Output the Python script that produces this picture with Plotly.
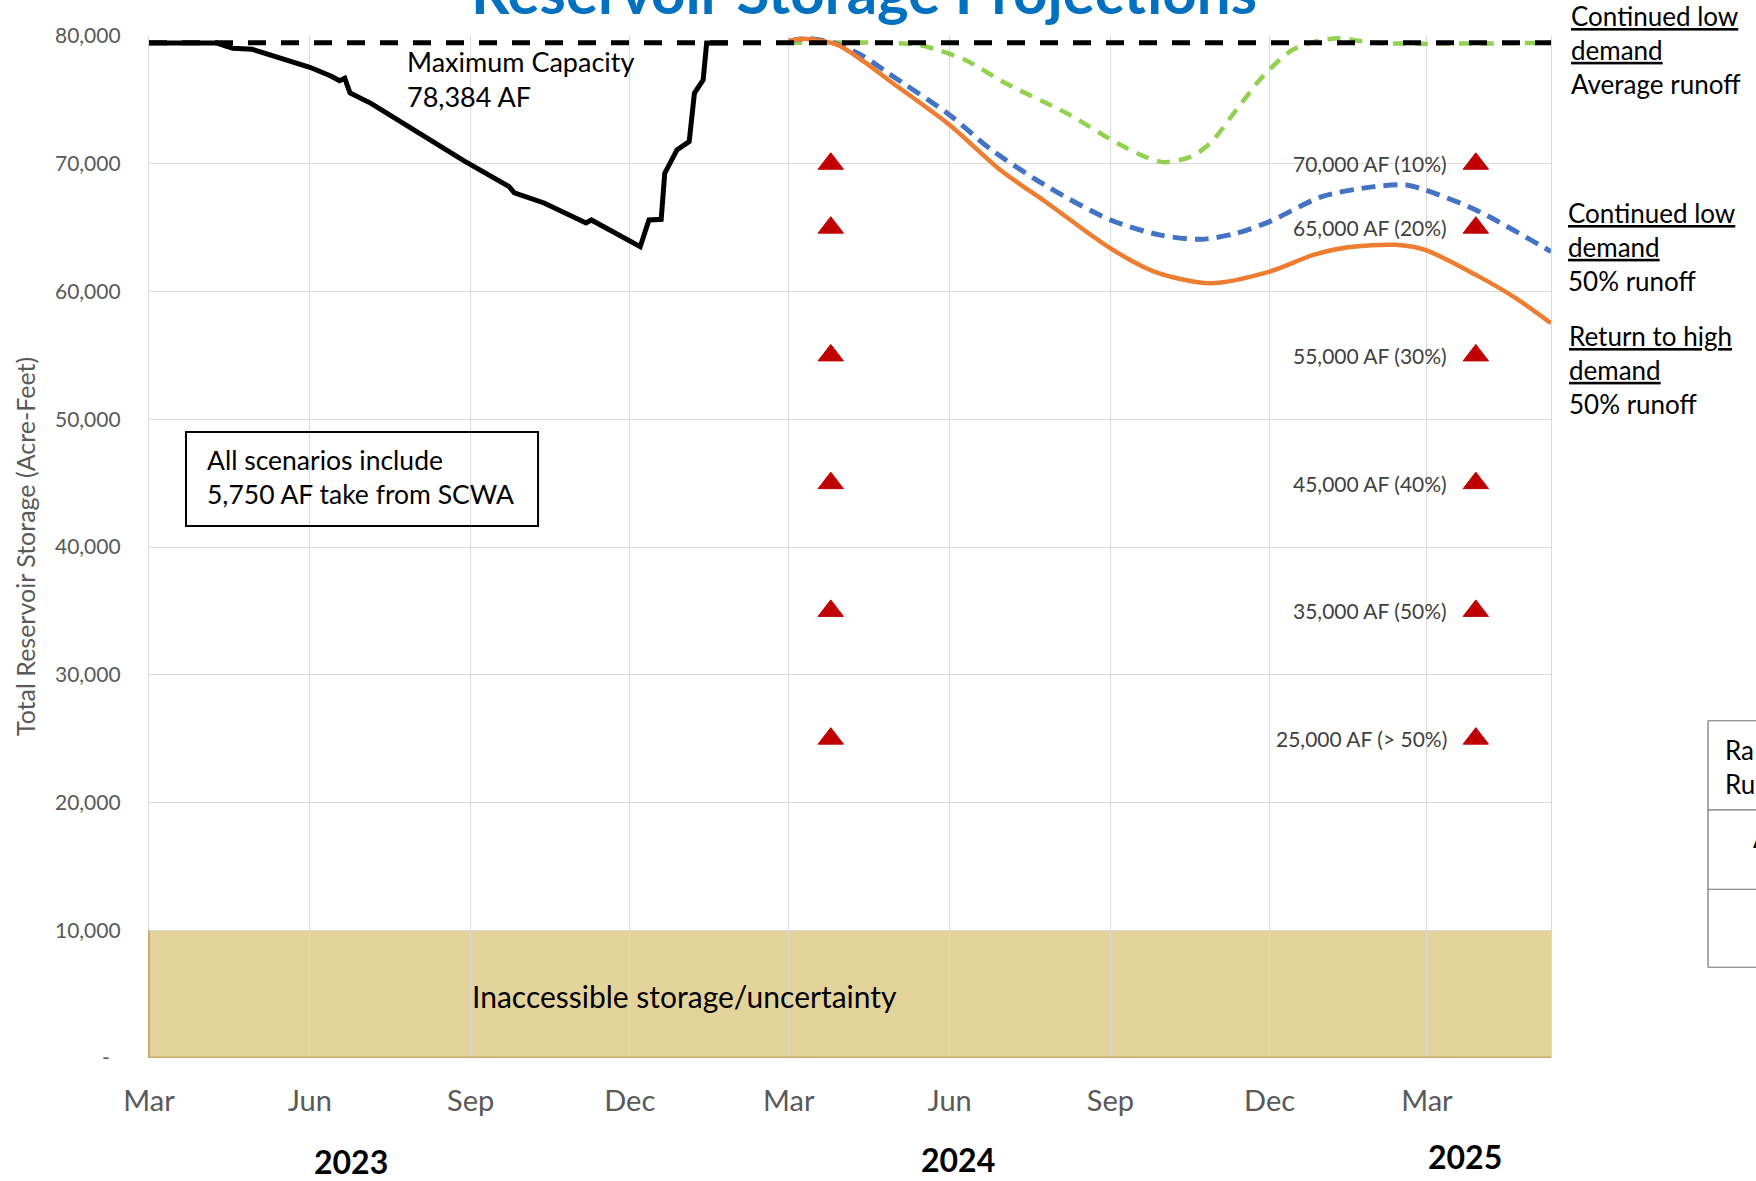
import plotly.graph_objects as go

# ---------------- data ----------------
hist_dates = ["2023-03-01", "2023-04-09", "2023-04-14", "2023-04-18", "2023-04-29", "2023-05-23",
              "2023-06-01", "2023-06-13", "2023-06-18", "2023-06-21", "2023-06-24", "2023-07-06",
              "2023-07-28", "2023-08-28", "2023-09-23", "2023-09-26", "2023-10-13", "2023-11-06",
              "2023-11-09", "2023-12-07", "2023-12-12", "2023-12-19", "2023-12-21", "2023-12-28",
              "2024-01-04", "2024-01-07", "2024-01-12", "2024-01-14", "2024-01-26"]
hist_af = [79450, 79450, 79200, 79040, 78960, 77860,
           77550, 76870, 76500, 76690, 75540, 74730,
           72900, 70240, 68210, 67720, 66930, 65370,
           65600, 63510, 65600, 65650, 69250, 71080,
           71730, 75520, 76560, 79450, 79450]

capacity_dates = ["2023-03-01", "2025-05-11"]
capacity_af = [79470, 79470]

green_dates = ["2024-03-01", "2024-04-27", "2024-05-12", "2024-05-21", "2024-06-10", "2024-07-03",
               "2024-08-07", "2024-09-05", "2024-09-23", "2024-10-02", "2024-10-17", "2024-10-28",
               "2024-11-12", "2024-11-27", "2024-12-14", "2024-12-29", "2025-01-10", "2025-01-30",
               "2025-05-11"]
green_af = [79470, 79470, 79340, 79080, 78120, 76300,
            73950, 71600, 70430, 70120, 70560, 71600,
            74210, 76820, 78900, 79620, 79820, 79470,
            79470]

blue_dates = ["2024-03-01", "2024-03-10", "2024-03-18", "2024-03-29", "2024-04-13", "2024-04-27",
              "2024-06-01", "2024-06-25", "2024-07-27", "2024-09-01", "2024-09-29", "2024-10-23",
              "2024-11-12", "2024-12-01", "2024-12-31", "2025-01-30", "2025-02-17", "2025-02-28",
              "2025-03-29", "2025-05-11"]
blue_af = [79600, 79800, 79700, 79350, 78380, 77080,
           73820, 71080, 68210, 65600, 64430, 64090,
           64560, 65470, 67430, 68210, 68340, 67950,
           66385, 63125]

orange_dates = ["2024-03-01", "2024-03-10", "2024-03-18", "2024-03-29", "2024-04-13", "2024-04-27",
                "2024-06-01", "2024-06-30", "2024-07-27", "2024-09-01", "2024-09-26", "2024-10-28",
                "2024-12-01", "2024-12-26", "2025-01-15", "2025-02-11", "2025-02-28", "2025-03-29",
                "2025-04-21", "2025-05-11"]
orange_af = [79600, 79780, 79650, 79300, 77990, 76560,
             73040, 69510, 66910, 63380, 61560, 60650,
             61560, 62860, 63460, 63650, 63250, 61300,
             59470, 57520]

trigger_values = [70000, 65000, 55000, 45000, 35000, 25000]
trigger_labels = ["70,000 AF (10%)", "65,000 AF (20%)", "55,000 AF (30%)",
                  "45,000 AF (40%)", "35,000 AF (50%)", "25,000 AF (> 50%)"]
trigger_date_2024 = "2024-03-25"
trigger_date_2025 = "2025-03-29"

inaccessible_top = 10000

y_tickvals = [0, 10000, 20000, 30000, 40000, 50000, 60000, 70000, 80000]
y_ticktext = ["-\u00a0\u00a0", "10,000", "20,000", "30,000", "40,000",
              "50,000", "60,000", "70,000", "80,000"]

year_labels = ["2023", "2024", "2025"]

# ---------------- figure ----------------
FONT = "Lato"
fig = go.Figure()

fig.add_trace(go.Scatter(x=hist_dates, y=hist_af, mode="lines",
                         line=dict(color="black", width=5), name="Historical"))
fig.add_trace(go.Scatter(x=green_dates, y=green_af, mode="lines",
                         line=dict(color="#92D050", width=4.5, dash="13px,9px", shape="spline", smoothing=0.8),
                         name="Continued low demand, average runoff"))
fig.add_trace(go.Scatter(x=blue_dates, y=blue_af, mode="lines",
                         line=dict(color="#4472C4", width=5, dash="14px,8px", shape="spline", smoothing=0.8),
                         name="Continued low demand, 50% runoff"))
fig.add_trace(go.Scatter(x=orange_dates, y=orange_af, mode="lines",
                         line=dict(color="#ED7D31", width=4.5, shape="spline", smoothing=0.8),
                         name="Return to high demand, 50% runoff"))
fig.add_trace(go.Scatter(x=capacity_dates, y=capacity_af, mode="lines",
                         line=dict(color="black", width=5, dash="18px,15px"), name="Maximum Capacity"))
fig.add_trace(go.Scatter(x=[trigger_date_2024] * len(trigger_values), y=trigger_values, mode="markers",
                         marker=dict(symbol="triangle-up", size=22, color="#C00000",
                                     line=dict(color="#C00000", width=1)), name="Triggers 2024"))
fig.add_trace(go.Scatter(x=[trigger_date_2025] * len(trigger_values), y=trigger_values, mode="markers",
                         marker=dict(symbol="triangle-up", size=22, color="#C00000",
                                     line=dict(color="#C00000", width=1)), name="Triggers 2025"))

shapes = [
    dict(type="rect", xref="paper", yref="y", x0=0, x1=1, y0=0, y1=inaccessible_top,
         fillcolor="rgba(212,182,90,0.6)", line=dict(width=0), layer="between"),
    dict(type="line", xref="paper", yref="y", x0=0, x1=1, y0=0, y1=0,
         line=dict(color="#C8AE6C", width=3)),
    dict(type="line", xref="paper", yref="y", x0=0, x1=0, y0=0, y1=inaccessible_top,
         line=dict(color="#C8AE6C", width=2)),
    # note box
    dict(type="rect", xref="paper", yref="paper", x0=0.0264, x1=0.2775, y0=0.5205, y1=0.6125,
         line=dict(color="black", width=2), fillcolor="rgba(0,0,0,0)"),
    # partial table at right
    dict(type="line", xref="paper", yref="paper", x0=1.112, x1=1.112, y0=0.0888, y1=0.33,
         line=dict(color="#707070", width=1.2)),
]
for yy in [0.33, 0.2427, 0.1651, 0.0888]:
    shapes.append(dict(type="line", xref="paper", yref="paper", x0=1.112, x1=1.25, y0=yy, y1=yy,
                       line=dict(color="#707070", width=1.2)))

annotations = [
    dict(text="<b>Reservoir Storage Projections</b>", xref="paper", yref="paper", x=0.51, y=1.044,
         xanchor="center", yanchor="middle", showarrow=False,
         font=dict(family=FONT, size=60, color="#0070C0")),
    dict(text="Maximum Capacity<br>78,384 AF", xref="paper", yref="paper", x=0.1826, y=0.958,
         xanchor="left", yanchor="middle", align="left", showarrow=False,
         font=dict(family=FONT, size=27, color="black")),
    dict(text="All scenarios include<br>5,750 AF take from SCWA", xref="paper", yref="paper",
         x=0.0399, y=0.5685, xanchor="left", yanchor="middle", align="left", showarrow=False,
         font=dict(family=FONT, size=26.5, color="black")),
    dict(text="Inaccessible storage/uncertainty", xref="paper", yref="paper", x=0.229, y=0.061,
         xanchor="left", yanchor="middle", showarrow=False,
         font=dict(family=FONT, size=30, color="black")),
    dict(text="<u>Continued low</u><br><u>demand</u><br>Average runoff", xref="paper", yref="paper",
         x=1.0125, y=0.9863, xanchor="left", yanchor="middle", align="left", showarrow=False,
         font=dict(family=FONT, size=26, color="black")),
    dict(text="<u>Continued low</u><br><u>demand</u><br>50% runoff", xref="paper", yref="paper",
         x=1.0105, y=0.7939, xanchor="left", yanchor="middle", align="left", showarrow=False,
         font=dict(family=FONT, size=26, color="black")),
    dict(text="<u>Return to high</u><br><u>demand</u><br>50% runoff", xref="paper", yref="paper",
         x=1.0115, y=0.6732, xanchor="left", yanchor="middle", align="left", showarrow=False,
         font=dict(family=FONT, size=26, color="black")),
    dict(text="Total Reservoir Storage (Acre-Feet)", xref="paper", yref="paper", x=-0.0884, y=0.5,
         xanchor="center", yanchor="middle", textangle=-90, showarrow=False,
         font=dict(family=FONT, size=25, color="#595959")),
    dict(text="Ra<br>Ru", xref="paper", yref="paper", x=1.1228, y=0.2847, xanchor="left",
         yanchor="middle", align="left", showarrow=False,
         font=dict(family=FONT, size=26, color="black")),
    dict(text="A", xref="paper", yref="paper", x=1.1427, y=0.2153, xanchor="left",
         yanchor="middle", showarrow=False,
         font=dict(family=FONT, size=26, color="black")),
]
for lab, val in zip(trigger_labels, trigger_values):
    annotations.append(dict(text=lab, xref="paper", yref="y", x=0.9272, y=val, xanchor="right",
                            yanchor="middle", showarrow=False,
                            font=dict(family=FONT, size=21, color="#404040")))
for lab, xx, yy in zip(year_labels, [0.144, 0.577, 0.939], [-0.1008, -0.0991, -0.0968]):
    annotations.append(dict(text="<b>" + lab + "</b>", xref="paper", yref="paper", x=xx, y=yy,
                            xanchor="center", yanchor="middle", showarrow=False,
                            font=dict(family=FONT, size=32, color="black")))

fig.update_layout(
    width=1756, height=1181,
    margin=dict(l=149, r=205, t=36, b=123, pad=0),
    paper_bgcolor="white", plot_bgcolor="white",
    showlegend=False,
    shapes=shapes, annotations=annotations,
    font=dict(family=FONT, color="#595959"),
)
fig.update_xaxes(
    type="date", range=["2023-03-01", "2025-05-11"],
    tick0="2023-03-01", dtick="M3", tickformat="%b",
    showgrid=True, gridcolor="#D9D9D9", gridwidth=1.3,
    ticks="", ticklabelstandoff=23, zeroline=False, showline=False,
    tickfont=dict(family=FONT, size=29, color="#595959"),
)
fig.update_yaxes(
    range=[0, 80000], tickvals=y_tickvals, ticktext=y_ticktext,
    showgrid=True, gridcolor="#D9D9D9", gridwidth=1.3,
    ticks="", ticklabelstandoff=23, zeroline=False,
    showline=True, mirror=True, linecolor="#D9D9D9", linewidth=1.3,
    tickfont=dict(family=FONT, size=21, color="#595959"),
)

fig.write_html("out.html", config={"displayModeBar": False},
               post_script="document.body.style.margin='0';")
